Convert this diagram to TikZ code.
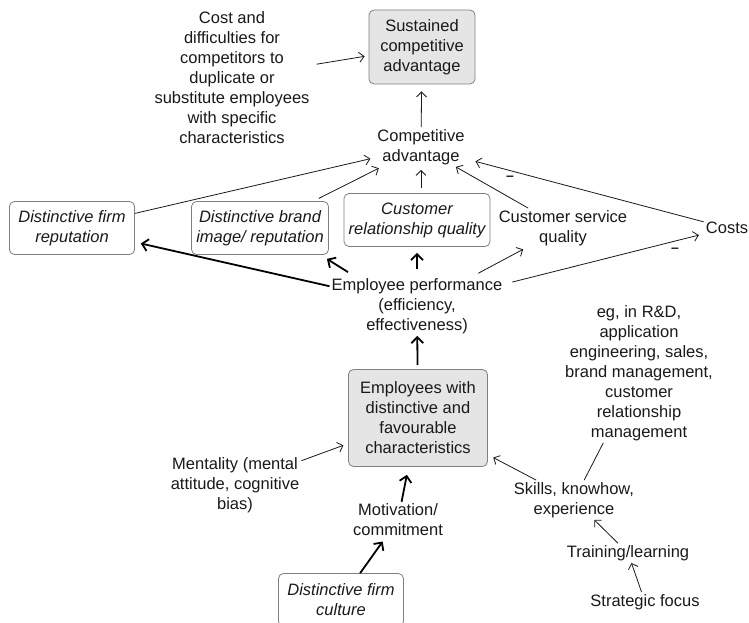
\documentclass[tikz,border=0pt]{standalone}
\usepackage{fontspec}
\setmainfont{Liberation Sans}
\usetikzlibrary{arrows.meta}
\begin{document}
\begin{tikzpicture}[x=1pt,y=-1pt,
  every node/.style={font=\fontsize{16.5}{20}\selectfont, text=black!90, align=center, inner sep=2pt},
  box/.style={draw=black!50, rounded corners=5pt, line width=0.8pt, minimum height=53pt},
  keybox/.style={box, fill=black!10},
  em/.style={font=\fontsize{16.5}{20}\selectfont\itshape},
  link/.style={-{Straight Barb[length=5pt,width=10pt]}, line width=0.8pt, draw=black!90},
  strong/.style={-{Straight Barb[length=6pt,width=12pt]}, line width=1.8pt, draw=black},
  plainlink/.style={line width=0.8pt, draw=black!90},
  minus/.style={font=\fontsize{14}{14}\selectfont\bfseries, inner sep=0pt}]
\useasboundingbox (0,0) rectangle (749,623);

% outcome nodes
\node[keybox, minimum width=106pt, minimum height=74pt] (sca) at (422,47) {Sustained\\competitive\\advantage};
\node (cost) at (232,78) {Cost and\\difficulties for\\competitors to\\duplicate or\\substitute employees\\with specific\\characteristics};
\node (ca) at (421,147) {Competitive\\advantage};

% intermediate outcomes
\node[box, em, minimum width=125pt] (rep) at (72,228) {Distinctive firm\\reputation};
\node[box, em, minimum width=137pt] (brand) at (260,228) {Distinctive brand\\image/ reputation};
\node[box, em, minimum width=146pt] (crq) at (417,220) {Customer\\relationship quality};
\node (csq) at (563,228) {Customer service\\quality};
\node (costs) at (727,228) {Costs};

% performance and resources
\node (ep) at (417,306) {Employee performance\\(efficiency,\\effectiveness)};
\node[keybox, minimum width=139pt, minimum height=97pt] (emp) at (418,418) {Employees with\\distinctive and\\favourable\\characteristics};
\node (ment) at (235,485) {Mentality (mental\\attitude, cognitive\\bias)};
\node (mot) at (398,520) {Motivation/\\commitment};
\node[box, em, minimum width=125pt] (cult) at (341,600) {Distinctive firm\\culture};
\node (eg) at (639,373) {eg, in R\&D,\\application\\engineering, sales,\\brand management,\\customer\\relationship\\management};
\node (skills) at (574,500) {Skills, knowhow,\\experience};
\node (train) at (628,553) {Training/learning};
\node (strat) at (645,602) {Strategic focus};

% minus signs on cost links
\node[minus] (m1) at (510,178) {--};
\node[minus] (m2) at (675,250) {--};

% thin links
\draw[link, shorten <=5pt, shorten >=4pt] (cost) -- (sca);
\draw[link, shorten >=7pt] (ca) -- (sca);
\draw[link, shorten >=5pt] (rep) -- (ca);
\draw[link, shorten <=6pt, shorten >=3pt] (brand) -- (ca);
\draw[link, shorten <=5pt, shorten >=3pt] (crq.north -| ca.south) -- (ca.south);
\draw[link] (csq) -- (ca);
\draw[link, shorten >=9pt] (costs) -- (ca);
\draw[link, shorten <=8pt, shorten >=5pt] (ep) -- (costs);
\draw[link, shorten <=6pt, shorten >=3pt] (ep) -- (csq);
\draw[link, shorten >=5pt] (ment) -- (emp);
\draw[link, shorten >=6pt] (skills) -- (emp);
\draw[plainlink] (eg) -- (skills);
\draw[link] (train) -- (skills);
\draw[link] (strat) -- (train);

% strong links
\draw[strong, shorten >=6pt] ([yshift=7pt]ep.north -| crq.south) -- (crq.south);
\draw[strong] ([xshift=-69pt,yshift=4pt]ep.north) -- ([xshift=-2pt,yshift=-4pt]brand.south east);
\draw[strong, shorten >=6pt] (ep) -- (rep);
\draw[strong, shorten <=4pt] (emp) -- (ep);
\draw[strong, shorten >=8pt] (mot) -- (emp);
\draw[strong, shorten >=4pt] (cult) -- (mot);
\end{tikzpicture}
\end{document}
